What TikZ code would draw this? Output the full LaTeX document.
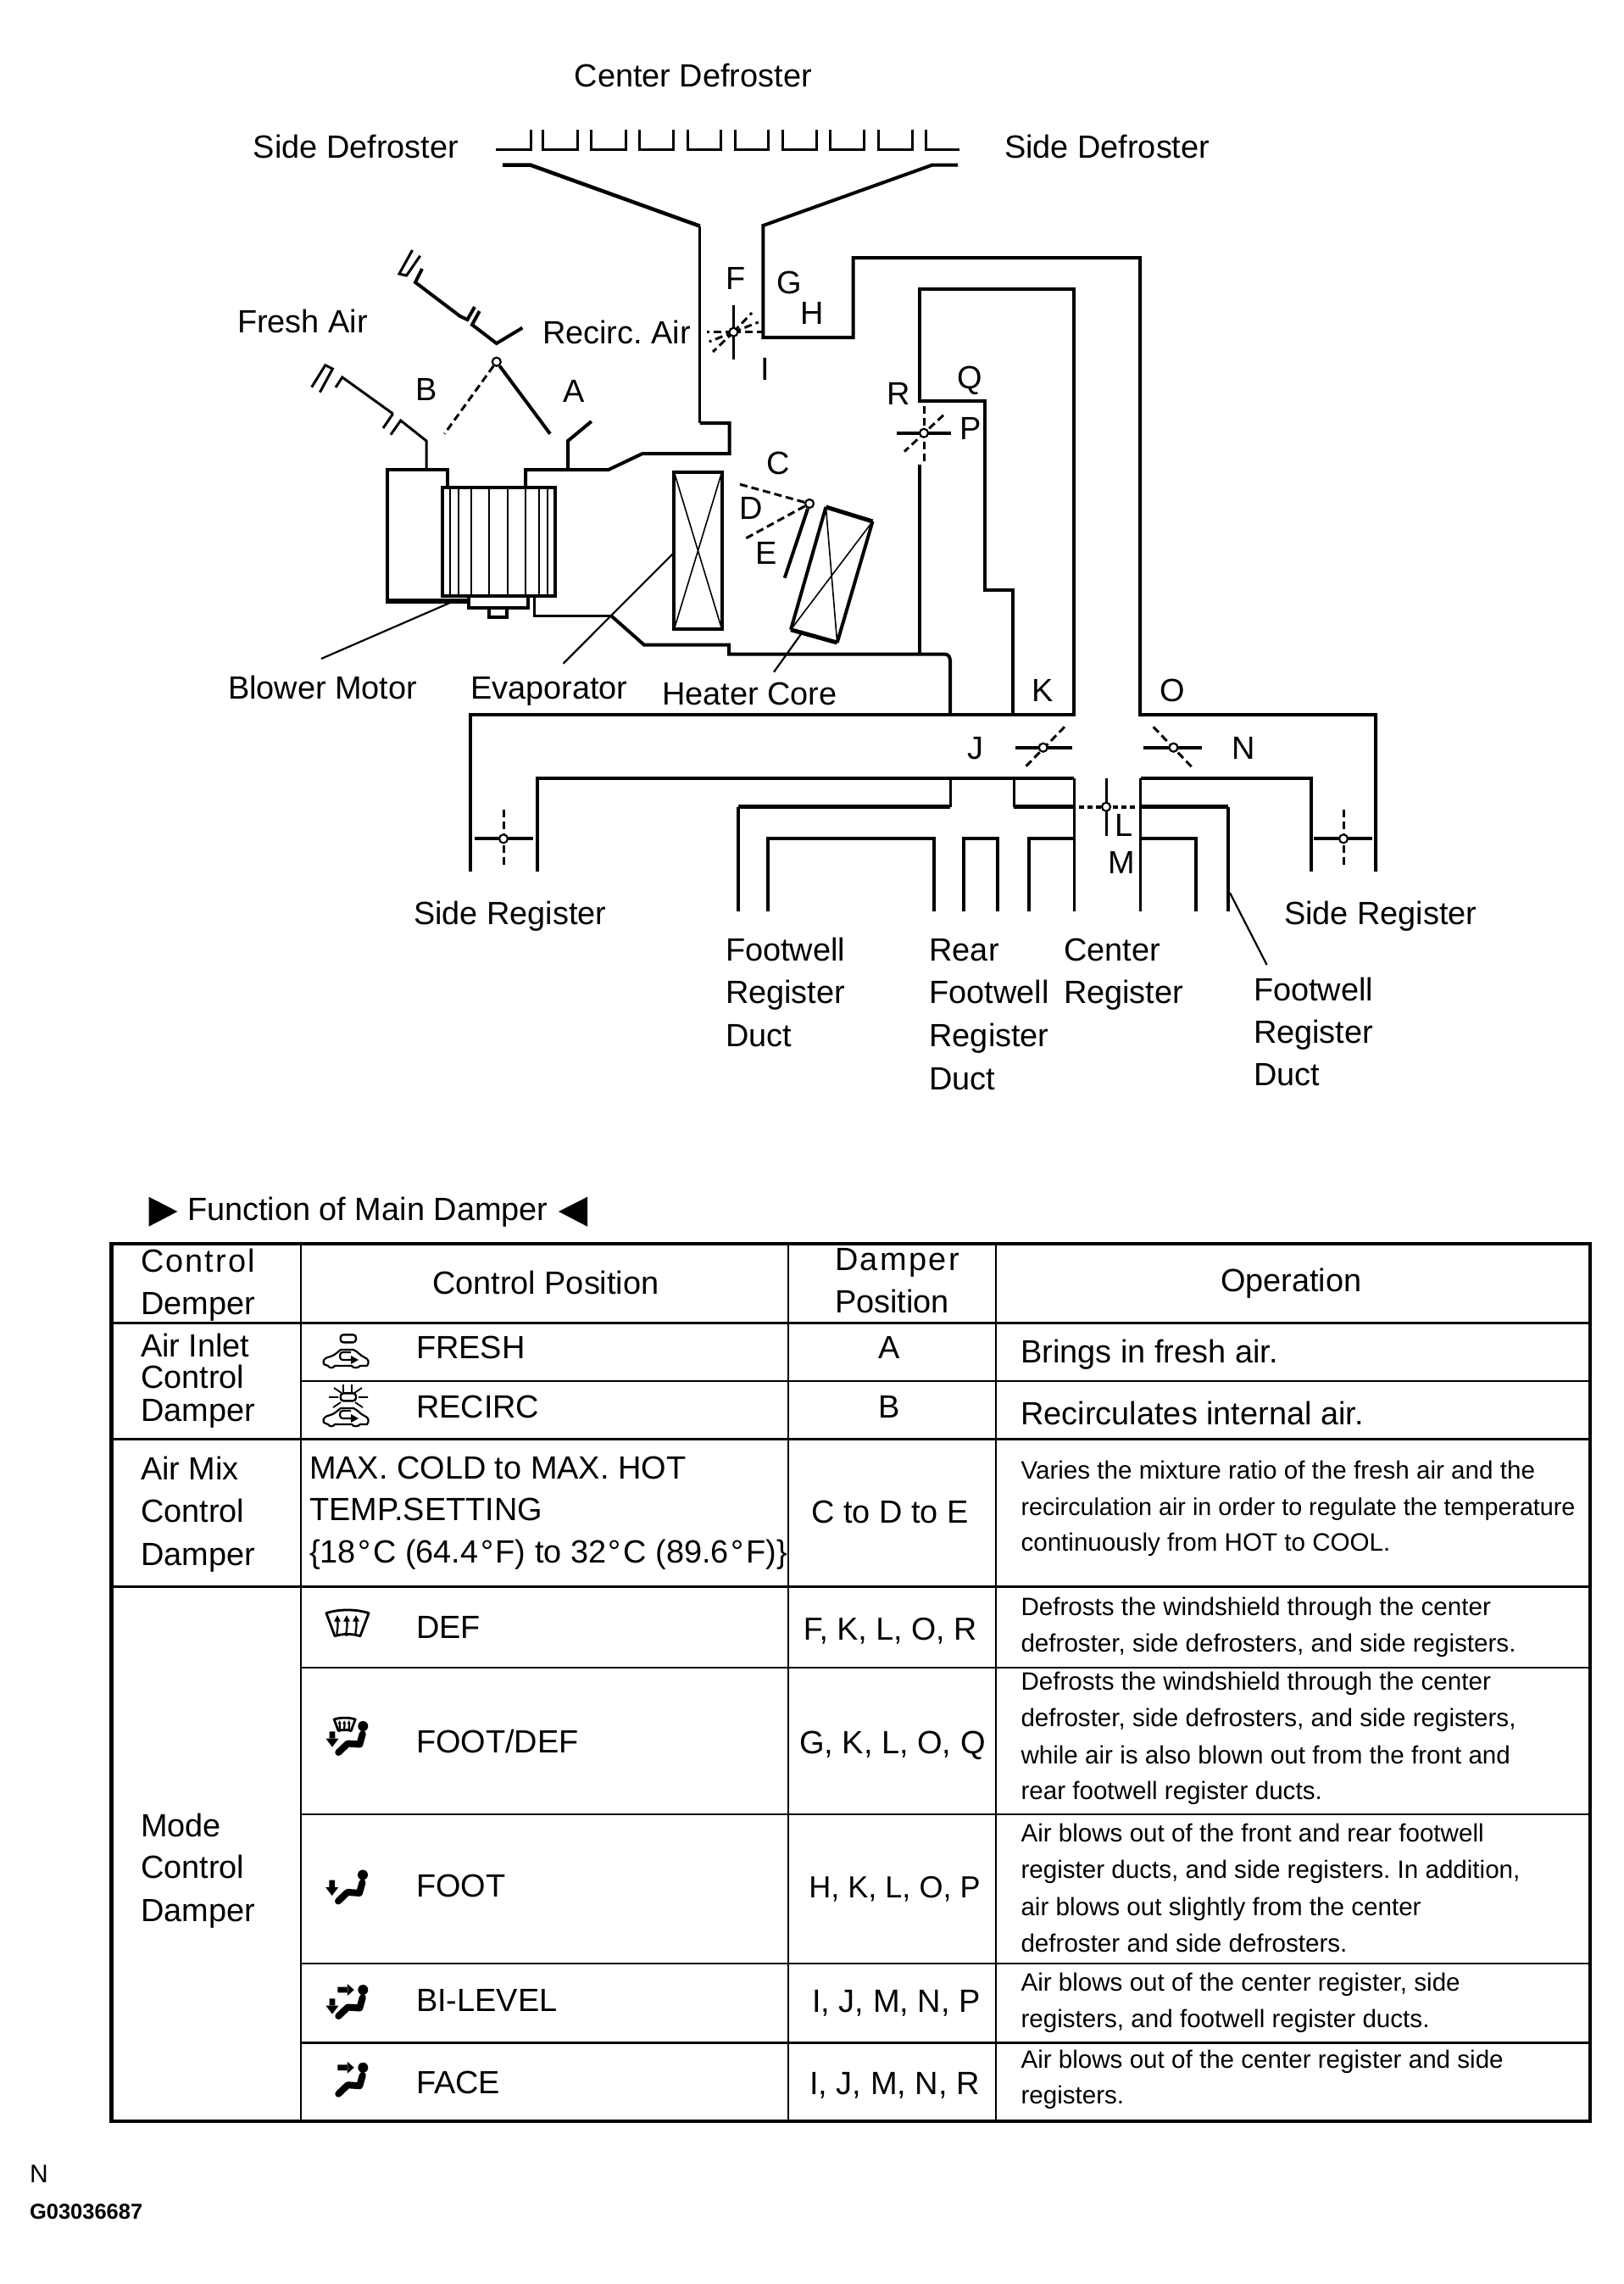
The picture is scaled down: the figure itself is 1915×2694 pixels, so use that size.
\documentclass[tikz,border=0pt]{standalone}
\usepackage{fontspec}
\setmainfont{Liberation Sans}
\frenchspacing
\begin{document}
\begin{tikzpicture}[x=1pt,y=-1pt,line join=miter,
  lbl/.style={anchor=base west,inner sep=0pt,outer sep=0pt,font=\fontsize{37.9}{45}\selectfont},
  lblc/.style={lbl,anchor=base},
  lbls/.style={lbl,font=\fontsize{29.6}{34}\selectfont},
  wa/.style={line width=3pt},
  wb/.style={line width=4pt},
  wc/.style={line width=5.5pt},
  thin2/.style={line width=1.6pt},
  dsh/.style={line width=3pt,dash pattern=on 9pt off 5pt},
  solidb/.style={line width=4pt},
  pivot/.style={circle,draw,fill=white,line width=2.2pt,minimum size=10pt,inner sep=0pt},
  tlthick/.style={line width=3.5pt},
  tlthin/.style={line width=2pt},
  seatline/.style={line width=8pt,line cap=round,line join=round},
  carline/.style={line width=2.2pt,line join=round},
  pics/seatman/.style={code={
    \fill (0,0) circle (6pt);
    \draw[seatline] (-0.5,9) -- (-4,21.5) -- (-18,20.5) -- (-29,31);
  }},
  pics/downarrow/.style={code={
    \fill (-39.6,6.3) rectangle (-33,15) (-43.8,14.7) -- (-28.8,14.7) -- (-36.3,24.6) -- cycle;
  }},
  pics/rightarrow/.style={code={
    \fill (-30,-3.4) rectangle (-18,3.4) (-18.5,-7) -- (-10.5,0) -- (-18.5,7) -- cycle;
  }},
  pics/shield/.style={code={
    \draw[line width=2.8pt,line join=round] (-25,-12) .. controls (-10,-17) and (10,-17) .. (25,-12) -- (15,15) .. controls (5,12) and (-5,12) .. (-15,15) -- cycle;
    \foreach \q in {-12,-1,10}{
      \draw[line width=2.2pt] (\q,15) .. controls (\q-2,10) and (\q+2,6) .. (\q,-4);
      \fill (\q-4,-2) -- (\q,-9.5) -- (\q+4,-2) -- cycle;
    }
  }},
  pics/caricon/.style={code={
    \draw[carline] (-29,8) .. controls (-31,3) and (-27,0) .. (-21,-1) .. controls (-15,-3) and (-12,-7) .. (-9,-9) -- (6,-9) .. controls (11,-7) and (14,-2) .. (19,0) .. controls (24,2) and (25,6) .. (22,10) -- (14,10) .. controls (11,13) and (6,13) .. (4,10) -- (-16,10) .. controls (-18,13) and (-22,13) .. (-24,10) -- cycle;
    \draw[line width=2.2pt] (3,-6) -- (-7,-6) .. controls (-11,-6) and (-11,3) .. (-7,3) -- (4,3);
    \fill (3,-2) -- (12,3) -- (3,8) -- cycle;
  }}
]
\useasboundingbox (0,0) rectangle (1915,2694);

% ---------- Defroster comb
\draw[wa] (585,176) -- (626,176) -- (626,153);
\foreach \a/\b in {640.4/681.7,697.8/738,754/794.2,811.4/850.5,867/906,923.4/963.5,979.6/1019.8,1036/1076.6}
  \draw[wa] (\a,153) -- (\a,176) -- (\b,176) -- (\b,153);
\draw[wa] (1092,153) -- (1092,176) -- (1132.3,176);

% ---------- Center duct, left wall down to blower
\draw[line width=4.5pt] (593,194.7) -- (626,194.7) -- (825.8,266.7);
\draw[wa] (825.8,266.7) -- (825.8,499);
\draw[wb] (825.8,499) -- (860.5,499) -- (860.5,535) -- (758,535) -- (718,554) -- (620,554) -- (620,575);
% right wall and side-register duct
\draw[wb] (1130,194.7) -- (1099.6,194.7) -- (900.4,266) -- (900.4,398) -- (1006.6,398) -- (1006.6,304) -- (1345,304) -- (1345,843) -- (1623,843) -- (1623,1028);
% inner loop
\draw[wb] (1195,843) -- (1195,696) -- (1161.7,696) -- (1161.7,473) -- (1085,473) -- (1085,341) -- (1267,341) -- (1267,843) -- (555,843) -- (555,1028);
\draw[wb] (1085,548) -- (1085,771);
% lower casing
\draw[wa] (630.6,703) -- (630.6,726) -- (720.7,726);
\draw[wb] (720.7,726) -- (760,760.7) -- (860,760.7) -- (860,771.5) -- (1114,771.5) .. controls (1119,771.5) and (1121,775) .. (1121,780) -- (1121,843);

% ---------- Blower box
\draw[wb] (528.4,575) -- (528.4,554) -- (456.7,554) -- (456.7,709);
\draw[wc] (455,709) -- (552,709);
\draw[wb] (521.5,575) rectangle (654.7,703);
\foreach \v in {531,541,556,577,599,620,636,646}
  \draw[line width=1.7pt] (\v,575) -- (\v,703);
\draw[wb] (552.5,703) -- (552.5,717) -- (623,717) -- (623,703);
\draw[wb] (577,717) -- (577,728) -- (598,728) -- (598,717);

% ---------- Fresh air inlet (left)
\draw[wa] (503,554) -- (503,520) -- (472.7,496) -- (461,512.7);
\draw[wa] (463.6,488) -- (403.8,445) -- (396,457);
\draw[wa] (463.6,488) -- (452,505);
\draw[wa] (367.7,456.7) -- (383.8,430.7) -- (392.4,435) -- (377.4,462.7);
% A-side stub
\draw[wb] (670,553) -- (670,520) -- (697.8,497);
% Recirc inlet (upper)
\draw[wa] (486.5,295) -- (471,323) -- (479.6,325) -- (495.7,301.7);
\draw[wb] (498,317) -- (490,333) -- (542.8,373) -- (551.4,377) -- (560,362);
\draw[wb] (565.7,367) -- (557,383) -- (585.8,405) -- (616.3,386.7);
% Inlet damper
\node[pivot] (dInlet) at (585.8,426.7) {};
\draw[wb] (dInlet) -- (649,511.7);
\draw[dsh] (dInlet) -- (524.4,511.7);

% ---------- Evaporator
\draw[wb] (795.4,557) rectangle (851.6,742);
\draw[thin2] (795.4,557) -- (851.6,742) (851.6,557) -- (795.4,742);
% ---------- Heater core
\draw[line width=5pt] (974.4,598) -- (1029.5,615) (987.7,758) -- (933,742.7);
\draw[wb] (974.4,598) -- (933,742.7) (1029.5,615) -- (987.7,758);
\draw[thin2] (974.4,598) -- (987.7,758) (1029.5,615) -- (933,742.7);

% ---------- Air mix damper
\node[pivot] (dMix) at (955,594) {};
\draw[solidb] (dMix) -- (925.7,681.7);
\draw[dsh] (dMix) -- (871,570.7);
\draw[dsh] (dMix) -- (878.6,635.7);

% ---------- Defroster damper F/G/H/I
\draw[wa] (865.4,360) -- (865.4,424);
\draw[dsh] (865.4,391.7) -- (834,391.7);
\draw[dsh] (865.4,391.7) -- (898.7,391.7);
\draw[dsh] (865.4,391.7) -- (887,369);
\draw[dsh] (865.4,391.7) -- (894.7,380);
\draw[dsh] (865.4,391.7) -- (841,415);
\draw[dsh] (865.4,391.7) -- (836.7,403);
\node[pivot] (dDef) at (865.4,391.7) {};

% ---------- Foot damper R/Q/P
\draw[solidb] (1058,510.8) -- (1121.7,510.8);
\draw[dsh] (1090,479) -- (1090,544);
\draw[dsh] (1113,489.7) -- (1067,532.6);
\node[pivot] (dFoot) at (1090,510.8) {};

% ---------- Distribution dampers
\draw[solidb] (1197.8,881.7) -- (1265,881.7);
\draw[dsh] (1256,857.3) -- (1207.7,906.7);
\node[pivot] (dJK) at (1230.7,881.7) {};
\draw[solidb] (1349,881.7) -- (1418,881.7);
\draw[dsh] (1360.7,857.3) -- (1408,906.7);
\node[pivot] (dNO) at (1384.5,881.7) {};
\draw[wa] (1305,918.3) -- (1305,986);
\draw[dsh,line width=4pt,dash pattern=on 6pt off 4pt] (1272.7,951.7) -- (1341.6,951.7);
\node[pivot] (dLM) at (1305,951.7) {};
\draw[solidb] (559.7,989.3) -- (628.5,989.3);
\draw[dsh] (594,955) -- (594,1023);
\node[pivot] (dSL) at (594,989.3) {};
\draw[solidb] (1549.7,989.3) -- (1618.6,989.3);
\draw[dsh] (1585,955) -- (1585,1023);
\node[pivot] (dSR) at (1585,989.3) {};

% ---------- Lower registers
\draw[wb] (634,1028) -- (634,918.3) -- (1266.7,918.3);
\draw[wb] (1345.5,918.3) -- (1546.7,918.3) -- (1546.7,1028);
\draw[wa] (1267.4,918.3) -- (1267.4,1075);
\draw[wa] (1345.5,918.3) -- (1345.5,1075);
\draw[wa] (1121.3,918.3) -- (1121.3,951.7);
\draw[wc] (1121.3,951.7) -- (871,951.7);
\draw[wb] (871,951.7) -- (871,1075);
\draw[wa] (1196,918.3) -- (1196,951.7);
\draw[wc] (1196,951.7) -- (1266.7,951.7);
\draw[wc] (1345.5,951.7) -- (1448.8,951.7);
\draw[wb] (1448.8,951.7) -- (1448.8,1075);
\draw[wb] (905.5,1075) -- (905.5,989.3) -- (1102,989.3) -- (1102,1075);
\draw[wb] (1137.3,1075) -- (1137.3,989.3) -- (1177,989.3) -- (1177,1075);
\draw[wb] (1213.9,1075) -- (1213.9,989.3) -- (1267,989.3);
\draw[wb] (1345.5,989.3) -- (1410.5,989.3) -- (1410.5,1075);

% ---------- Leaders
\coordinate (lBlowA) at (540,707); \coordinate (lBlowB) at (379,777);
\coordinate (lEvapA) at (795.4,651.7); \coordinate (lEvapB) at (664.5,782.7);
\coordinate (lHeatA) at (945.7,747); \coordinate (lHeatB) at (913,792.7);
\coordinate (lFootA) at (1451,1053); \coordinate (lFootB) at (1494.6,1138);
\draw[line width=2.2pt] (lBlowA) -- (lBlowB) (lEvapA) -- (lEvapB) (lHeatA) -- (lHeatB) (lFootA) -- (lFootB);

% ---------- Diagram labels
\node[lbl] (tCD) at (677.7,102.7) {Center Defroster};
\node[lbl] (tSDL) at (298.8,186.7) {Side Defroster};
\node[lbl] (tSDR) at (1185,186.7) {Side Defroster};
\node[lbl] (tFA) at (280,392.7) {Fresh Air};
\node[lbl] (tRA) at (640,405) {Recirc. Air};
\node[lbl] (tF) at (856,341.7) {F};
\node[lbl] (tG) at (916,346.7) {G};
\node[lbl] (tH) at (944,382) {H};
\node[lbl] (tI) at (897,448) {I};
\node[lbl] (tB) at (490,472) {B};
\node[lbl] (tA) at (664.5,474) {A};
\node[lbl] (tR) at (1046,477) {R};
\node[lbl] (tQ) at (1129,458) {Q};
\node[lbl] (tP) at (1132,518) {P};
\node[lbl] (tC) at (904,559) {C};
\node[lbl] (tD) at (872,612.7) {D};
\node[lbl] (tE) at (891,665.7) {E};
\node[lbl] (tBM) at (269,824) {Blower Motor};
\node[lbl] (tEv) at (555,824) {Evaporator};
\node[lbl] (tHC) at (781,831.7) {Heater Core};
\node[lbl] (tK) at (1217,827) {K};
\node[lbl] (tO) at (1368,827) {O};
\node[lbl] (tJ) at (1141,895) {J};
\node[lbl] (tN) at (1453,895) {N};
\node[lbl] (tL) at (1315,986.7) {L};
\node[lbl] (tM) at (1307,1030) {M};
\node[lbl] (tSRL) at (488,1090) {Side Register};
\node[lbl] (tSRR) at (1515,1090) {Side Register};
\node[lbl] (tF1) at (856,1133.3) {Footwell};
\node[lbl] (tF2) at (856,1183.3) {Register};
\node[lbl] (tF3) at (856,1234) {Duct};
\node[lbl] (tR1) at (1096.5,1133.3) {Rear};
\node[lbl] (tR2) at (1096.5,1183.3) {Footwell};
\node[lbl] (tR3) at (1096.5,1234) {Register};
\node[lbl] (tR4) at (1096.5,1285) {Duct};
\node[lbl] (tC1) at (1255,1133.3) {Center};
\node[lbl] (tC2) at (1255,1183.3) {Register};
\node[lbl] (tG1) at (1479,1180) {Footwell};
\node[lbl] (tG2) at (1479,1230) {Register};
\node[lbl] (tG3) at (1479,1280.7) {Duct};

% ---------- Heading
\node[lbl] (tHead) at (221,1439) {Function of Main Damper};
\fill (175.5,1411.7) -- (209.4,1429) -- (175.5,1446.7) -- cycle;
\fill (693,1411.7) -- (659,1429) -- (693,1446.7) -- cycle;

% ---------- Table frame
\draw[line width=4.5pt] (131.7,1466.8) rectangle (1876,2502);
\draw[tlthin] (355,1466.8) -- (355,2502) (929.5,1466.8) -- (929.5,2502) (1175.4,1466.8) -- (1175.4,2502);
\draw[tlthick] (131.7,1560.3) -- (1876,1560.3);
\draw[tlthin] (355,1628.8) -- (1876,1628.8);
\draw[tlthick] (131.7,1697.3) -- (1876,1697.3);
\draw[tlthick] (131.7,1871.5) -- (1876,1871.5);
\draw[tlthin] (355,1967) -- (1876,1967);
\draw[line width=1.6pt] (355,2140) -- (1876,2140);
\draw[line width=2.4pt] (355,2316) -- (1876,2316);
\draw[line width=2.4pt] (355,2409.5) -- (1876,2409.5);

% ---------- Column 1
\node[lbl] (c1a) at (166,1500) {\addfontfeature{LetterSpace=5.5}Control};
\node[lbl] (c1b) at (166,1550) {Demper};
\node[lbl] (c2a) at (166,1600.5) {Air Inlet};
\node[lbl] (c2b) at (166,1637.5) {Control};
\node[lbl] (c2c) at (166,1676.7) {Damper};
\node[lbl] (c3a) at (166,1745) {Air Mix};
\node[lbl] (c3b) at (166,1795) {Control};
\node[lbl] (c3c) at (166,1846.7) {Damper};
\node[lbl] (c4a) at (166,2166) {Mode};
\node[lbl] (c4b) at (166,2215.6) {Control};
\node[lbl] (c4c) at (166,2266) {Damper};

% ---------- Column 2
\node[lbl] (h2) at (510,1526) {Control Position};
\node[lbl] (p1) at (491,1602.7) {FRESH};
\node[lbl] (p2) at (491,1672) {RECIRC};
\node[lbl] (p3a) at (365,1744) {MAX. COLD to MAX. HOT};
\node[lbl] (p3b) at (365,1793) {TEMP.SETTING};
\node[lbl] (p3c) at (365,1843) {\{18\kern2.6pt°\kern2.6pt C (64.4\kern2.6pt°\kern2.6pt F) to 32\kern2.6pt°\kern2.6pt C (89.6\kern2.6pt°\kern2.6pt F)\}};
\node[lbl] (p4) at (491,1932.4) {DEF};
\node[lbl] (p5) at (491,2067) {FOOT/DEF};
\node[lbl] (p6) at (491,2237.5) {FOOT};
\node[lbl] (p7) at (491,2372) {BI-LEVEL};
\node[lbl] (p8) at (491,2469) {FACE};

% Air inlet icons
\draw[line width=2.4pt,rounded corners=3.5pt] (401.7,1574.3) rectangle (420,1583.3);
\pic at (411,1601) {caricon};
\draw[line width=2.4pt,rounded corners=3.5pt] (401.7,1643.3) rectangle (420,1652.3);
\pic at (411,1670) {caricon};
\draw[line width=1.8pt] (405,1633) -- (405,1643) (415,1633) -- (415,1643) (388,1648) -- (399,1648) (423,1648) -- (434,1648) (394,1637) -- (403,1643) (427,1637) -- (418,1643) (393,1660) -- (402,1654) (428,1660) -- (419,1654);

% Mode icons
\pic at (410,1914.7) {shield};
\pic at (406.7,2034) [scale=0.5] {shield};
\pic at (428.3,2036) {seatman};
\pic at (428.3,2036) {downarrow};
\pic at (428,2211.4) {seatman};
\pic at (428,2211.4) {downarrow};
\pic at (428.3,2347) {seatman};
\pic at (428.3,2351) {downarrow};
\pic at (428.3,2347) {rightarrow};
\pic at (428.3,2438.7) {seatman};
\pic at (428.3,2438.7) {rightarrow};

% ---------- Column 3
\node[lbl] (h3a) at (985,1498) {\addfontfeature{LetterSpace=6.5}Damper};
\node[lbl] (h3b) at (985,1548.5) {Position};
\node[lblc] (d1) at (1049.6,1602.5) {A};
\node[lblc] (d2) at (1049.6,1672.4) {B};
\node[lblc] (d3) at (1050,1796.4) {C to D to E};
\node[lblc,font=\fontsize{37.5}{42}\selectfont] (d4) at (1050,1934) {F, K, L, O, R};
\node[lblc,font=\fontsize{38}{42}\selectfont] (d5) at (1052.8,2068) {G, K, L, O, Q};
\node[lblc,font=\fontsize{36}{42}\selectfont] (d6) at (1055.5,2238) {H, K, L, O, P};
\node[lblc,font=\fontsize{38}{42}\selectfont] (d7) at (1057.5,2373.6) {I, J, M, N, P};
\node[lblc,font=\fontsize{38}{42}\selectfont] (d8) at (1055.5,2470.7) {I, J, M, N, R};

% ---------- Column 4
\node[lbl] (h4) at (1440,1523.7) {Operation};
\node[lbl] (o1) at (1204.5,1607) {Brings in fresh air.};
\node[lbl] (o2) at (1204.5,1680) {Recirculates internal air.};
\node[lbls] (o3a) at (1204.5,1744.8) {Varies the mixture ratio of the fresh air and the};
\node[lbls,font=\fontsize{28.7}{34}\selectfont] (o3b) at (1204.5,1787) {recirculation air in order to regulate the temperature};
\node[lbls] (o3c) at (1204.5,1829) {continuously from HOT to COOL.};
\node[lbls] (o4a) at (1204.5,1905) {Defrosts the windshield through the center};
\node[lbls] (o4b) at (1204.5,1948) {defroster, side defrosters, and side registers.};
\node[lbls] (o5a) at (1204.5,1993.6) {Defrosts the windshield through the center};
\node[lbls] (o5b) at (1204.5,2036) {defroster, side defrosters, and side registers,};
\node[lbls] (o5c) at (1204.5,2080) {while air is also blown out from the front and};
\node[lbls] (o5d) at (1204.5,2122.7) {rear footwell register ducts.};
\node[lbls] (o6a) at (1204.5,2172.5) {Air blows out of the front and rear footwell};
\node[lbls] (o6b) at (1204.5,2215.5) {register ducts, and side registers. In addition,};
\node[lbls] (o6c) at (1204.5,2259) {air blows out slightly from the center};
\node[lbls] (o6d) at (1204.5,2302) {defroster and side defrosters.};
\node[lbls] (o7a) at (1204.5,2348) {Air blows out of the center register, side};
\node[lbls] (o7b) at (1204.5,2391) {registers, and footwell register ducts.};
\node[lbls] (o8a) at (1204.5,2439) {Air blows out of the center register and side};
\node[lbls] (o8b) at (1204.5,2481.6) {registers.};

% ---------- Footer
\node[lbl,font=\fontsize{30}{34}\selectfont] (fN) at (35,2574) {N};
\node[lbl,font=\bfseries\fontsize{25.5}{30}\selectfont] (fG) at (35,2617.7) {G03036687};
\end{tikzpicture}
\end{document}
